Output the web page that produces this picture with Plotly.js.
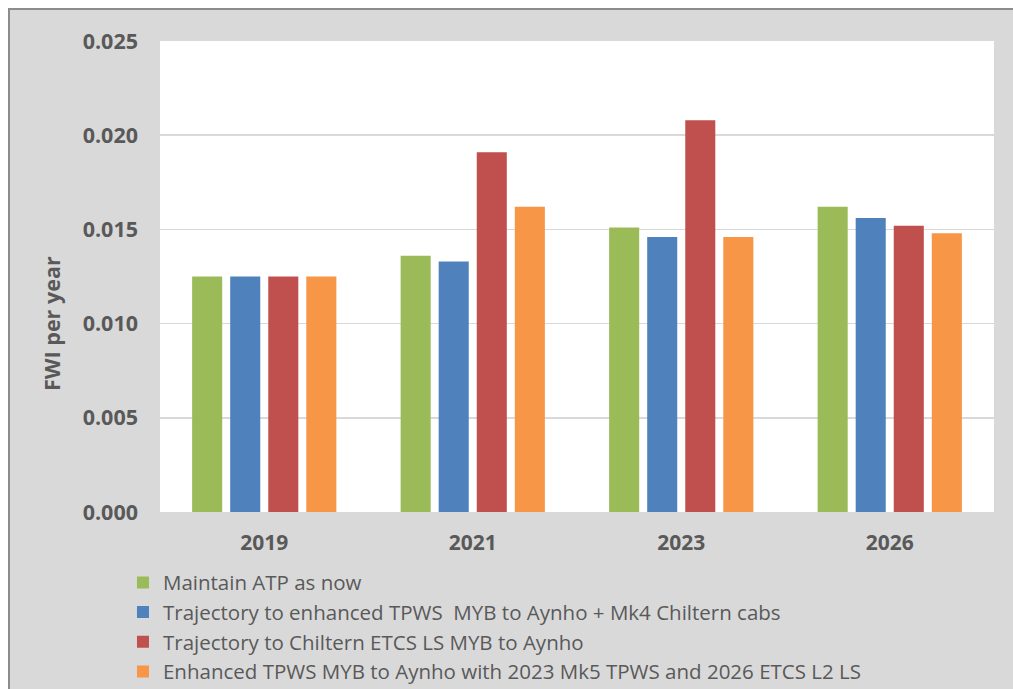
<!DOCTYPE html>
<html>
<head>
<meta charset="utf-8">
<script src="https://cdn.plot.ly/plotly-3.0.1.min.js"></script>
<style>
  html, body { margin: 0; padding: 0; background: #ffffff; }
  #frame {
    position: absolute; left: 8px; top: 8px;
    border-left: 2px solid #8c8c8c; border-top: 2px solid #8c8c8c;
    width: 1003px; height: 679px; background: #d9d9d9;
  }
  #chart { width: 1003px; height: 679px; }
</style>
</head>
<body>
<div id="frame"><div id="chart"></div></div>
<script>
// Category labels (years)
const years = ['2019', '2021', '2023', '2026'];

// FWI per year for each scenario
const maintainATP      = [0.0125, 0.0136, 0.0151, 0.0162];
const enhancedTPWS     = [0.0125, 0.0133, 0.0146, 0.0156];
const chilternETCS     = [0.0125, 0.0191, 0.0208, 0.0152];
const enhancedMk5ETCS  = [0.0125, 0.0162, 0.0146, 0.0148];

const seriesNames = [
  'Maintain ATP as now',
  'Trajectory to enhanced TPWS  MYB to Aynho + Mk4 Chiltern cabs',
  'Trajectory to Chiltern ETCS LS MYB to Aynho',
  'Enhanced TPWS MYB to Aynho with 2023 Mk5 TPWS and 2026 ETCS L2 LS'
];
const seriesColors = ['#9bbb59', '#4f81bd', '#c0504d', '#f79646'];
const seriesValues = [maintainATP, enhancedTPWS, chilternETCS, enhancedMk5ETCS];

const textColor = '#595959';
const fontFamily = '"Open Sans", "Noto Sans", sans-serif';

const traces = seriesValues.map((vals, i) => ({
  type: 'bar',
  name: seriesNames[i].replace(/  /g, '&nbsp; '),
  x: years,
  y: vals,
  marker: { color: seriesColors[i], line: { width: 0 } },
  hoverinfo: 'x+y+name'
}));

const layout = {
  width: 1003,
  height: 679,
  barmode: 'group',
  bargap: 0.27,
  bargroupgap: 0.21,
  paper_bgcolor: '#d9d9d9',
  plot_bgcolor: '#ffffff',
  margin: { l: 150, r: 19, t: 31, b: 177, autoexpand: false },
  font: { family: fontFamily, color: textColor },
  xaxis: {
    type: 'category',
    showgrid: false,
    showline: false,
    zeroline: false,
    ticks: '',
    ticklabelstandoff: 16,
    tickfont: { family: fontFamily, size: 21, color: textColor, weight: 'bold' }
  },
  yaxis: {
    range: [0, 0.025],
    dtick: 0.005,
    tick0: 0,
    tickformat: '.3f',
    showgrid: true,
    gridcolor: '#d9d9d9',
    gridwidth: 1.5,
    zeroline: false,
    showline: false,
    ticks: '',
    ticklabelstandoff: 21,
    tickfont: { family: fontFamily, size: 21.5, color: textColor, weight: 'bold' }
  },
  legend: {
    orientation: 'v',
    x: -0.0444,
    xanchor: 'left',
    y: -0.1075,
    yanchor: 'top',
    bgcolor: 'rgba(0,0,0,0)',
    borderwidth: 0,
    traceorder: 'normal',
    font: { family: fontFamily, size: 20.5, color: textColor }
  },
  annotations: [{
    text: 'FWI per year',
    xref: 'paper', yref: 'paper',
    x: -0.1295, y: 0.4013,
    xanchor: 'center', yanchor: 'middle',
    textangle: -90,
    showarrow: false,
    font: { family: fontFamily, size: 21.5, color: textColor, weight: 'bold' }
  }]
};

Plotly.newPlot('chart', traces, layout, { displayModeBar: false, staticPlot: true });
</script>
</body>
</html>
